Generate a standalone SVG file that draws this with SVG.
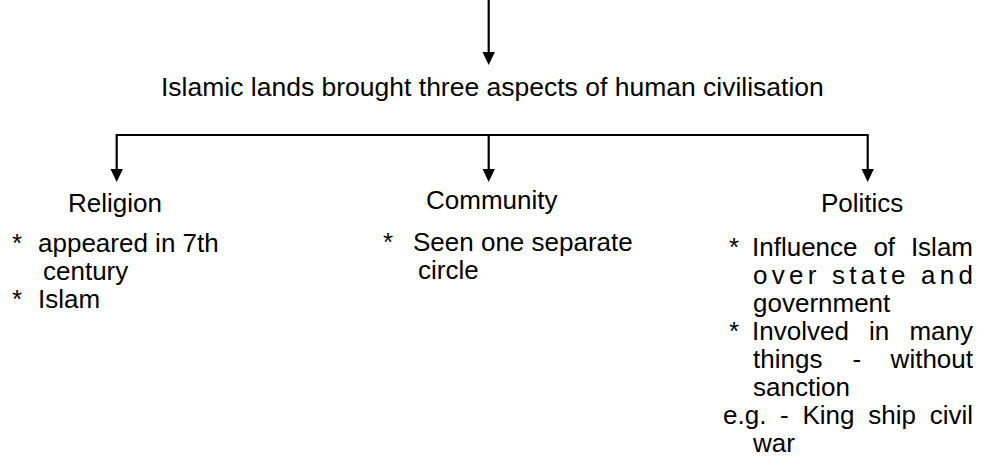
<svg xmlns="http://www.w3.org/2000/svg" width="982" height="470" viewBox="0 0 982 470">
<style>
text{font-family:"Liberation Sans",Arial,sans-serif;font-size:26px;fill:#000}
.t{font-size:26.5px}
.e{text-anchor:end}
.c{stroke:#000;stroke-width:2.2;fill:none}
.h{fill:#000;stroke:none}
</style>
<defs>
<path id="ah" class="h" d="M-6.2,-13 L6.2,-13 L0,0 Z"/>
</defs>
<g id="connectors">
<line class="c" x1="488.7" y1="0" x2="488.7" y2="54"/>
<use href="#ah" x="488.7" y="65"/>
<polyline class="c" points="116.7,171 116.7,135 867.7,135 867.7,171"/>
<line class="c" x1="488.7" y1="135" x2="488.7" y2="171"/>
<use href="#ah" x="116.7" y="182"/>
<use href="#ah" x="488.7" y="182"/>
<use href="#ah" x="867.7" y="182"/>
</g>
<g id="title">
<text class="t" x="161" y="96">Islamic lands brought three aspects of human civilisation</text>
</g>
<g id="religion">
<text x="68" y="212">Religion</text>
<text x="12" y="252">*</text>
<text x="38" y="252">appeared in 7th</text>
<text x="43" y="280">century</text>
<text x="12" y="308">*</text>
<text x="38" y="308">Islam</text>
</g>
<g id="community">
<text x="426" y="209">Community</text>
<text x="383" y="251">*</text>
<text x="413" y="251">Seen one separate</text>
<text x="418" y="279">circle</text>
</g>
<g id="politics">
<text x="821" y="212">Politics</text>
<text x="729" y="256">*</text>
<text x="752" y="256">Influence</text>
<text x="873.4" y="256">of</text>
<text class="e" x="973" y="256">Islam</text>
<text x="753" y="284" textLength="220" lengthAdjust="spacing">over state and</text>
<text x="753" y="312">government</text>
<text x="729" y="340">*</text>
<text x="752" y="340">Involved</text>
<text x="869" y="340">in</text>
<text class="e" x="973" y="340">many</text>
<text x="753" y="368">things</text>
<text x="852.6" y="368">-</text>
<text class="e" x="973" y="368">without</text>
<text x="753" y="396">sanction</text>
<text x="723" y="424">e.g.</text>
<text x="780.1" y="424">-</text>
<text x="802.5" y="424">King</text>
<text x="868.2" y="424">ship</text>
<text class="e" x="973" y="424">civil</text>
<text x="753" y="452">war</text>
</g>
</svg>
